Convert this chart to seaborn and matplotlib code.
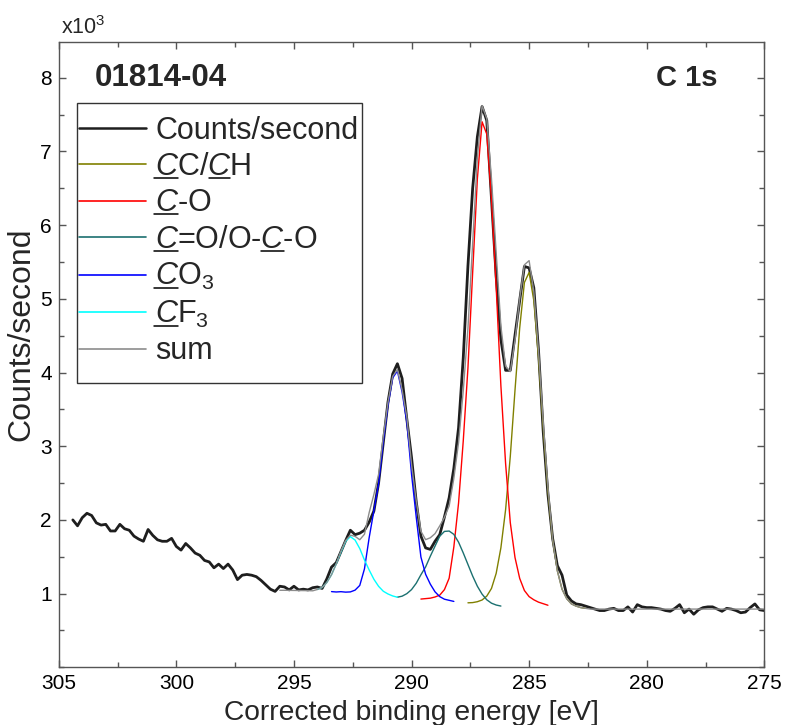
import numpy as np
import pandas as pd
import matplotlib
matplotlib.use("Agg")
import matplotlib.pyplot as plt
import seaborn as sns
from matplotlib.lines import Line2D
from matplotlib.patches import Rectangle
from matplotlib.ticker import MultipleLocator, FixedLocator
from matplotlib.transforms import IdentityTransform, blended_transform_factory

# ---------------- data (values in units of 10^3 counts/second) ----------------
E_START = 304.4      # first measured binding energy [eV]
E_STEP = 0.2         # energy step [eV]

counts = [
    2.00, 1.92, 2.03, 2.09, 2.06, 1.96, 1.93, 1.94, 1.85, 1.85,
    1.94, 1.88, 1.86, 1.78, 1.74, 1.71, 1.87, 1.79, 1.73, 1.71,
    1.71, 1.75, 1.64, 1.59, 1.68, 1.62, 1.55, 1.52, 1.45, 1.43,
    1.35, 1.40, 1.34, 1.40, 1.32, 1.19, 1.25, 1.26, 1.25, 1.23,
    1.18, 1.12, 1.06, 1.03, 1.10, 1.09, 1.05, 1.10, 1.05, 1.06,
    1.05, 1.08, 1.09,
    1.07, 1.20, 1.36, 1.42, 1.57, 1.72, 1.86, 1.80, 1.82, 1.86,
    1.97, 2.12, 2.50, 3.05, 3.60, 3.98, 4.12, 3.92, 3.37, 2.85,
    2.25, 1.78, 1.62, 1.60, 1.71, 1.80, 2.04, 2.30, 2.70, 3.25,
    4.20, 5.45, 6.50, 7.20, 7.61, 7.42, 6.35, 5.30, 4.45, 4.03,
    4.03, 4.50, 4.98, 5.44, 5.42, 5.15, 4.30, 3.20, 2.35, 1.75,
    1.38, 1.25, 0.98, 0.90, 0.86, 0.85, 0.83, 0.81, 0.79, 0.77,
    0.77, 0.79, 0.80, 0.77, 0.77, 0.82, 0.75, 0.85, 0.82, 0.81,
    0.81, 0.80, 0.79, 0.77, 0.76, 0.80, 0.85, 0.74, 0.79, 0.72,
    0.78, 0.81, 0.82, 0.82, 0.79, 0.76, 0.80, 0.79, 0.77, 0.74,
    0.75, 0.81, 0.86, 0.78, 0.77,
]

# Shirley-type background of the fit region
FIT_START = 295.6
background = [
    1.045, 1.045, 1.044, 1.043, 1.042, 1.041, 1.040, 1.038, 1.036,
    1.034, 1.031, 1.027, 1.022, 1.016,
    1.010, 1.003, 0.997, 0.991, 0.986,
    0.980, 0.975, 0.969, 0.962, 0.955,
    0.948, 0.941, 0.935, 0.929, 0.924,
    0.920, 0.916, 0.912, 0.908, 0.904,
    0.899, 0.894, 0.889, 0.884, 0.878,
    0.872, 0.865, 0.858, 0.850, 0.843,
    0.836, 0.830, 0.825, 0.821, 0.817,
    0.813, 0.810, 0.806, 0.802, 0.799,
    0.796, 0.794, 0.793, 0.792, 0.791,
    0.79, 0.79, 0.79, 0.79, 0.79, 0.79, 0.79, 0.79, 0.79, 0.79,
    0.79, 0.79, 0.79, 0.79, 0.79, 0.79, 0.79, 0.79, 0.79, 0.79,
    0.79, 0.79, 0.79, 0.79, 0.79, 0.79, 0.79, 0.79, 0.79, 0.79,
    0.79, 0.79, 0.79, 0.79, 0.79, 0.79, 0.79, 0.79, 0.79, 0.79,
    0.79, 0.79, 0.79, 0.79, 0.79,
]

# fitted components: height above background, starting energy of each list
CCCH_START = 287.6
cc_ch = [0.01, 0.02, 0.04, 0.07, 0.13, 0.24, 0.45, 0.80, 1.32, 2.05,
         2.95, 3.80, 4.42, 4.56, 4.18, 3.40, 2.46, 1.60, 0.94, 0.52,
         0.27, 0.14, 0.07, 0.04, 0.02, 0.01]

CO_START = 289.6
c_o = [0.01, 0.02, 0.03, 0.05, 0.08, 0.16, 0.32, 0.75, 1.35, 2.20,
       3.20, 4.50, 5.78, 6.56, 6.40, 5.52, 4.33, 3.00, 1.95, 1.15,
       0.68, 0.40, 0.24, 0.16, 0.12, 0.09, 0.07, 0.05]

CEQO_START = 290.6
c_eq_o = [0.01, 0.03, 0.07, 0.13, 0.22, 0.34, 0.45, 0.60, 0.74, 0.88,
          0.95, 0.96, 0.92, 0.82, 0.68, 0.53, 0.38, 0.25, 0.15, 0.08,
          0.04, 0.02, 0.01]

CO3_START = 293.4
co3 = [0.00, 0.00, 0.01, 0.01, 0.02, 0.05, 0.12, 0.35, 0.78, 1.15,
       1.52, 2.10, 2.60, 2.98, 3.08, 2.80, 2.40, 1.70, 1.12, 0.58,
       0.35, 0.22, 0.12, 0.06, 0.03, 0.02, 0.01]

CF3_START = 294.0
cf3 = [0.02, 0.05, 0.12, 0.23, 0.38, 0.55, 0.70, 0.77, 0.73, 0.62,
       0.47, 0.34, 0.22, 0.13, 0.07, 0.04, 0.02, 0.01]

labels = ["Counts/second",
          r"$\mathit{C}$C/$\mathit{C}$H",
          r"$\mathit{C}$-O",
          r"$\mathit{C}$=O/O-$\mathit{C}$-O",
          r"$\mathit{C}$O$_3$",
          r"$\mathit{C}$F$_3$",
          "sum"]
colors = ["#1e1e1e", "#808000", "#ff0000", "#1b7070", "#0000ff", "#00ffff", "#8c8c8c"]

# ---------------- build tables ----------------
def energies(start, n):
    return np.round(start - E_STEP * np.arange(n), 1)

e_counts = energies(E_START, len(counts))
e_fit = energies(FIT_START, len(background))
bg = np.array(background)

comp_defs = [(CCCH_START, cc_ch), (CO_START, c_o), (CEQO_START, c_eq_o),
             (CO3_START, co3), (CF3_START, cf3)]

frames = [pd.DataFrame({"energy": e_counts, "value": counts, "series": labels[0]})]
total = bg.copy()
for (start, vals), lab in zip(comp_defs, labels[1:6]):
    off = int(round((FIT_START - start) / E_STEP))
    n = len(vals)
    seg_bg = bg[off:off + n]
    frames.append(pd.DataFrame({"energy": energies(start, n),
                                "value": seg_bg + np.array(vals), "series": lab}))
    total[off:off + n] += np.array(vals)
frames.append(pd.DataFrame({"energy": e_fit, "value": total, "series": labels[6]}))
df = pd.concat(frames, ignore_index=True)

# ---------------- style ----------------
sns.set_style("ticks")
plt.rcParams["font.family"] = ["Liberation Sans", "DejaVu Sans"]
plt.rcParams["mathtext.fontset"] = "custom"
plt.rcParams["mathtext.rm"] = "Liberation Sans"
plt.rcParams["mathtext.it"] = "Liberation Sans:italic"
plt.rcParams["mathtext.bf"] = "Liberation Sans:bold"

fig = plt.figure(figsize=(7.86, 7.25), dpi=100)
ax = fig.add_axes([0.0747, 0.0796, 0.8977, 0.8629])

widths = [2.0, 1.0, 1.0, 1.0, 1.0, 1.0, 1.0]
for lab, col, lw in zip(labels, colors, widths):
    sub = df[df["series"] == lab]
    sns.lineplot(data=sub, x="energy", y="value", color=col, linewidth=lw,
                 estimator=None, sort=True, legend=False, ax=ax)

ax.set_xlim(305, 275)
ax.set_ylim(0.0, 8.49)
ax.xaxis.set_major_locator(MultipleLocator(5))
ax.xaxis.set_minor_locator(MultipleLocator(2.5))
ax.yaxis.set_major_locator(FixedLocator([1, 2, 3, 4, 5, 6, 7, 8]))
ax.yaxis.set_minor_locator(MultipleLocator(0.5))
ax.tick_params(which="both", direction="in", top=True, right=True,
               color="#555555", width=1.0, labelsize=15, labelcolor="black")
ax.tick_params(which="major", length=5, pad=5)
ax.tick_params(which="minor", length=3.5)
for s in ax.spines.values():
    s.set_color("#555555")
    s.set_linewidth(1.0)

ax.set_xlabel("Corrected binding energy [eV]", fontsize=20.3)
ax.set_ylabel("Counts/second", fontsize=23)
ax.xaxis.set_label_coords(0.5, -0.053)
ax.yaxis.set_label_coords(-0.031, 0.533)

tr = blended_transform_factory(ax.transAxes, ax.transData)
ax.text(0.0514, 8.0, "01814-04", transform=tr, fontsize=22.5, fontweight="bold",
        ha="left", va="center")
ax.text(0.933, 8.0, "C 1s", transform=tr, fontsize=21, fontweight="bold",
        ha="right", va="center")
fig.text(0.0776, 0.962, r"x10$^3$", fontsize=15.5, ha="left", va="center")

# legend frame drawn as a rectangle in axes coordinates
ax.add_patch(Rectangle((0.0255, 0.4545), 0.4039, 0.447, transform=ax.transAxes,
                       facecolor="white", edgecolor="#333333", lw=1.0, zorder=4))

handles = [Line2D([], [], color=c, lw=(1.8 if i == 0 else 1.2)) for i, c in enumerate(colors)]
leg = ax.legend(handles, labels, loc="upper left", bbox_to_anchor=(0.0115, 0.9015),
                borderaxespad=0, frameon=False, fontsize=22, handlelength=2.2,
                handletextpad=0.3, labelspacing=0.21, borderpad=0.4)
leg.set_zorder(5)

# underline the italic C's in the legend labels
fig.canvas.draw()
renderer = fig.canvas.get_renderer()
italicC = r"$\mathit{C}$"
prefixes = {
    1: ["", r"$\mathit{C}$C/"],
    2: [""],
    3: ["", r"$\mathit{C}$=O/O-"],
    4: [""],
    5: [""],
}
for idx, pre_list in prefixes.items():
    t = leg.get_texts()[idx]
    prop = t.get_fontproperties()
    bb = t.get_window_extent(renderer)
    _, _, d_full = renderer.get_text_width_height_descent(t.get_text(), prop, ismath=True)
    _, _, d_lp = renderer.get_text_width_height_descent("lp", prop, ismath=False)
    baseline = bb.y0 + max(d_full, d_lp)
    for pre in pre_list:
        x0 = 0.0
        if pre:
            x0, _, _ = renderer.get_text_width_height_descent(pre, prop, ismath=True)
        x1, _, _ = renderer.get_text_width_height_descent(pre + italicC, prop, ismath=True)
        y = baseline - 3.0
        fig.add_artist(Line2D([bb.x0 + x0 - 1, bb.x0 + x1 - 2], [y, y],
                              transform=IdentityTransform(), color="black", lw=1.1,
                              zorder=6))

fig.savefig("out.png", dpi=100, facecolor="white")
